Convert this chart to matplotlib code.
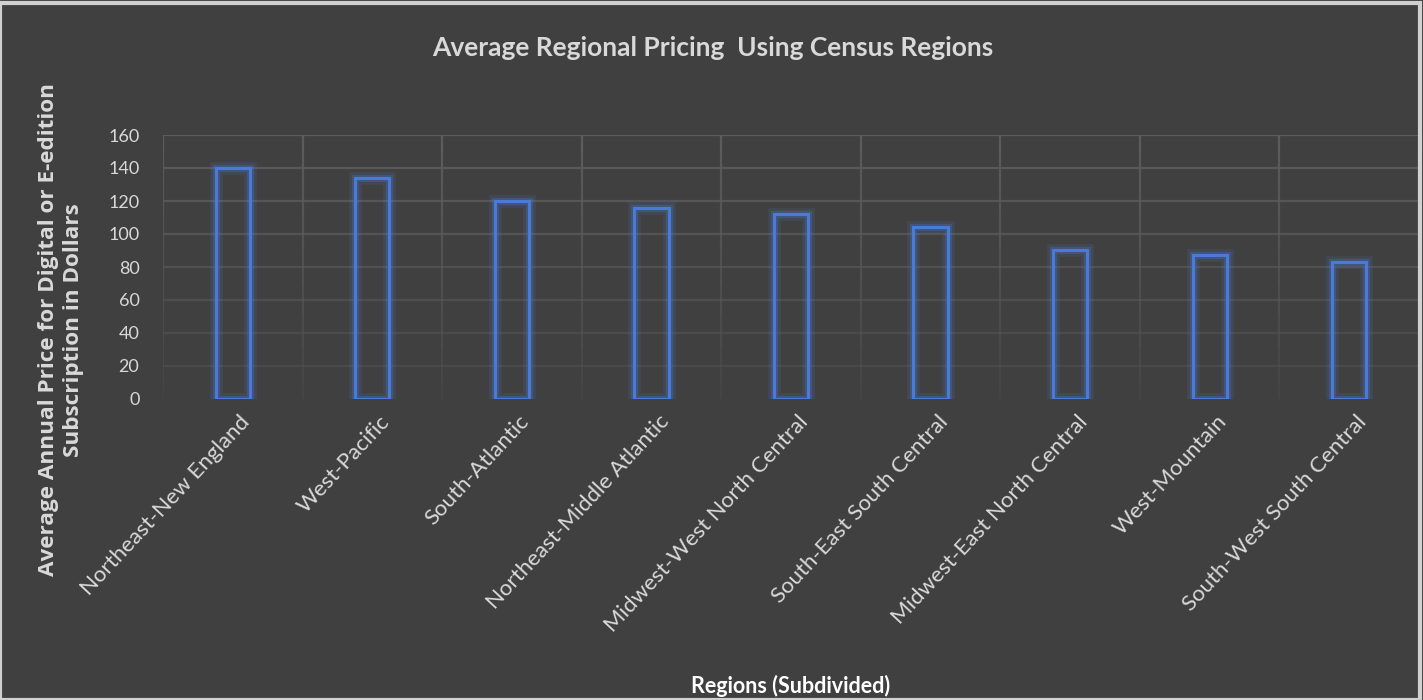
import matplotlib
matplotlib.use("Agg")
import matplotlib.pyplot as plt
import matplotlib.patheffects as pe
import matplotlib.transforms as mtransforms
import numpy as np

categories = ["Northeast-New England", "West-Pacific", "South-Atlantic",
              "Northeast-Middle Atlantic", "Midwest-West North Central",
              "South-East South Central", "Midwest-East North Central",
              "West-Mountain", "South-West South Central"]
values = [140, 134, 120, 116, 112, 104, 90, 87, 83]
yticks = [0, 20, 40, 60, 80, 100, 120, 140, 160]

BG = "#404040"
TXT = "#D9D9D9"
BAR = "#4A7BDA"

fig = plt.figure(figsize=(14.23, 7.0), dpi=100, facecolor=BG)
ax = fig.add_axes([163/1423, 1-399/700, (1419-163)/1423, (399-135)/700])
ax.set_facecolor(BG)

x = np.arange(len(categories))
ax.set_xlim(-0.5, len(categories)-0.5)
ax.set_ylim(0, 160)

# gridlines (fading toward bottom)
for t in yticks[1:]:
    a = 0.25 + 0.75*(t/160)
    ax.axhline(t, color="#5C5C5C", lw=1.6, alpha=a, zorder=0)
for b in np.arange(-0.5, len(categories), 1.0):
    segs = np.linspace(0, 160, 17)
    for i in range(16):
        a = 0.15 + 0.85*(segs[i+1]/160)
        ax.plot([b, b], [segs[i], segs[i+1]], color="#5C5C5C", lw=1.6,
                alpha=a, zorder=0, solid_capstyle="butt")

bars = ax.bar(x, values, width=0.245, facecolor="none", edgecolor=BAR,
              linewidth=1.8, zorder=3)
for r in bars:
    r.set_path_effects([pe.withStroke(linewidth=9, foreground=BAR, alpha=0.15),
                        pe.withStroke(linewidth=5, foreground=BAR, alpha=0.28),
                        pe.Normal()])

for s in ax.spines.values():
    s.set_visible(False)
ax.tick_params(length=0)
ax.set_yticks(yticks)
ax.set_yticklabels([str(v) for v in yticks], color=TXT, fontsize=13,
                   family="Lato")
ax.tick_params(axis="y", pad=17)
ax.set_xticks(x)
ax.set_xticklabels(categories, rotation=47, ha="right", va="center",
                   rotation_mode="anchor", color=TXT, fontsize=16,
                   family="Lato")
ax.tick_params(axis="x", pad=14)
off = mtransforms.ScaledTranslation(14/100, 0, fig.dpi_scale_trans)
for lab in ax.get_xticklabels():
    lab.set_transform(lab.get_transform() + off)

fig.text(713/1423, 1-48/700, "Average Regional Pricing  Using Census Regions",
         ha="center", va="center", color=TXT, fontsize=19, family="Lato",
         fontweight="bold")
fig.text(61/1423, 1-330/700,
         "Average Annual Price for Digital or E-edition\nSubscription in Dollars",
         rotation=90, ha="center", va="center", color=TXT, fontsize=16.2,
         family="Open Sans", fontweight="bold", linespacing=1.2)
fig.text(791/1423, 1-686/700, "Regions (Subdivided)", ha="center",
         va="center", color="white", fontsize=15.5, family="Lato",
         fontweight="bold")

# outer border
fig.patches.append(plt.Rectangle((0.0, 0.0), 0.998, 0.996,
                                 transform=fig.transFigure, fill=False,
                                 edgecolor="#D0D0D0", lw=3))

fig.savefig("out.png", dpi=100, facecolor=BG)
